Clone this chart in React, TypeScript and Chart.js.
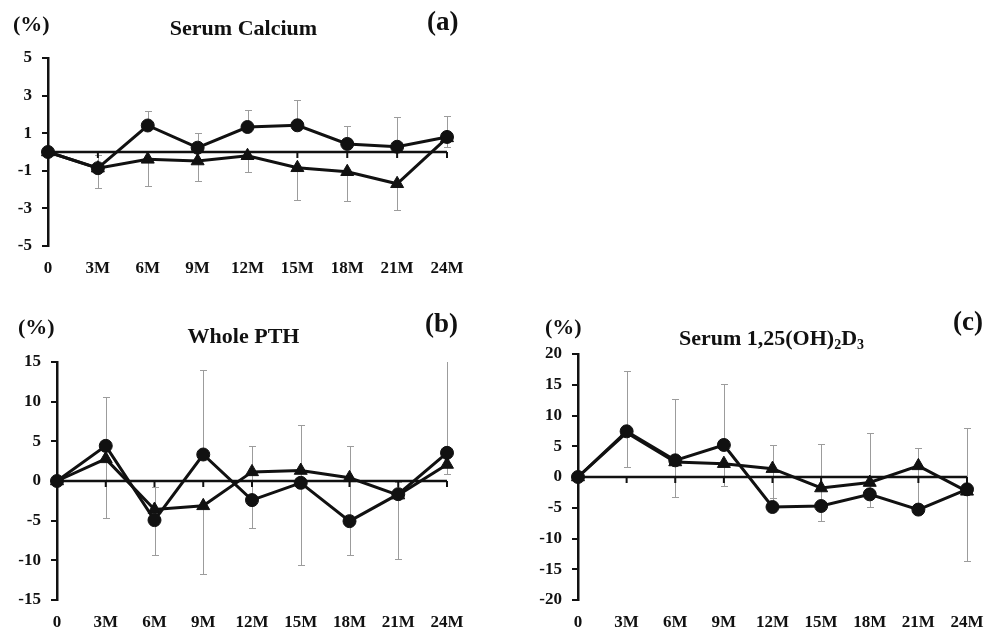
import React, { useEffect, useRef } from "react";
import { Chart, registerables } from "chart.js";

Chart.register(...registerables);

// ---------- data ----------
const months = ["0", "3M", "6M", "9M", "12M", "15M", "18M", "21M", "24M"];

// (a) Serum Calcium
const calciumCircle = [0, -0.86, 1.41, 0.23, 1.33, 1.42, 0.43, 0.28, 0.8];
const calciumCircleSD = [0, 0.68, 0.78, 0.77, 0.89, 1.32, 0.96, 1.57, 1.09];
const calciumTriangle = [0, -0.86, -0.39, -0.48, -0.2, -0.84, -1.05, -1.69, 0.75];
const calciumTriangleSD = [0, 1.03, 1.42, 1.05, 0.89, 1.69, 1.58, 1.41, 0.47];
const calciumTicks = [-5, -3, -1, 1, 3, 5];

// (b) Whole PTH
const pthCircle = [0, 4.43, -4.93, 3.34, -2.41, -0.23, -5.06, -1.66, 3.55];
const pthCircleSD = [0, 6.12, 4.2, 10.61, 6.8, 7.34, 9.45, 1.53, 12.0];
const pthTriangle = [0, 2.79, -3.59, -3.13, 1.15, 1.32, 0.4, -1.78, 2.08];
const pthTriangleSD = [0, 7.51, 5.75, 8.6, 7.13, 11.96, 9.74, 8.09, 1.16];
const pthTicks = [-15, -10, -5, 0, 5, 10, 15];

// (c) Serum 1,25(OH)2D3
const vitDCircle = [0, 7.43, 2.71, 5.21, -4.88, -4.72, -2.82, -5.3, -2.0];
const vitDCircleSD = [0, 9.88, 9.93, 9.98, 10.03, 10.04, 9.98, 10.07, 10.03];
const vitDTriangle = [0, 7.2, 2.44, 2.17, 1.36, -1.79, -0.9, 1.81, -2.33];
const vitDTriangleSD = [0, 5.63, 5.64, 3.69, 4.72, 5.43, 3.98, 7.0, 11.27];
const vitDTicks = [-20, -15, -10, -5, 0, 5, 10, 15, 20];

// ---------- styles ----------
const INK = "#111111";
const ERR = "#9c9c9c";
const FONT = '"Liberation Serif", "Times New Roman", Times, serif';

type PanelSpec = {
  circle: number[];
  circleSD: number[];
  triangle: number[];
  triangleSD: number[];
  ticks: number[];
  left: number;
  top: number;
  width: number;
  height: number;
  yWidth: number;
  padTop: number;
  padRight: number;
  padBottom: number;
};

function makeDecor(spec: PanelSpec) {
  return {
    id: "panelDecor",
    beforeDatasetsDraw(chart: any) {
      const { ctx, chartArea, scales } = chart;
      const x = scales.x;
      const y = scales.y;
      // error bars (circles: upward, triangles: downward)
      ctx.save();
      ctx.beginPath();
      ctx.rect(chartArea.left - 10, chartArea.top, chartArea.right - chartArea.left + 20, chartArea.bottom - chartArea.top);
      ctx.clip();
      ctx.strokeStyle = ERR;
      ctx.lineWidth = 1;
      const groups: [number[], number[], number][] = [
        [spec.circle, spec.circleSD, 1],
        [spec.triangle, spec.triangleSD, -1],
      ];
      groups.forEach(([vals, sds, dir]) => {
        vals.forEach((v, i) => {
          const sd = sds[i];
          if (!sd) return;
          const px = Math.round(x.getPixelForValue(i)) + 0.5;
          const y0 = y.getPixelForValue(v);
          const y1 = Math.round(y.getPixelForValue(v + dir * sd)) + 0.5;
          ctx.beginPath();
          ctx.moveTo(px, y0);
          ctx.lineTo(px, y1);
          ctx.moveTo(px - 3.5, y1);
          ctx.lineTo(px + 3.5, y1);
          ctx.stroke();
        });
      });
      ctx.restore();
      // zero axis line with tick marks
      const zy = y.getPixelForValue(0);
      ctx.save();
      ctx.strokeStyle = INK;
      ctx.lineWidth = 2.5;
      ctx.beginPath();
      ctx.moveTo(chartArea.left, zy);
      ctx.lineTo(chartArea.right, zy);
      ctx.stroke();
      ctx.lineWidth = 2;
      months.forEach((_, i) => {
        const px = x.getPixelForValue(i);
        ctx.beginPath();
        ctx.moveTo(px, zy);
        ctx.lineTo(px, zy + 6);
        ctx.stroke();
      });
      ctx.restore();
    },
  };
}

function Panel({ spec }: { spec: PanelSpec }) {
  const ref = useRef<HTMLCanvasElement | null>(null);
  useEffect(() => {
    if (!ref.current) return;
    const tickFont = { family: FONT, size: 17, weight: "bold" as const };
    const chart = new Chart(ref.current, {
      type: "line",
      data: {
        labels: months,
        datasets: [
          {
            label: "circle",
            data: spec.circle,
            borderColor: INK,
            backgroundColor: INK,
            borderWidth: 3,
            pointStyle: "circle",
            pointRadius: 6.5,
            pointBorderWidth: 1,
            pointBorderColor: INK,
            pointBackgroundColor: INK,
            tension: 0,
            order: 0,
          },
          {
            label: "triangle",
            data: spec.triangle,
            borderColor: INK,
            backgroundColor: INK,
            borderWidth: 3,
            pointStyle: "triangle",
            pointRadius: 7.5,
            pointBorderWidth: 1,
            pointBorderColor: INK,
            pointBackgroundColor: INK,
            tension: 0,
            order: 1,
          },
        ],
      },
      options: {
        responsive: false,
        animation: false,
        devicePixelRatio: 1,
        layout: {
          padding: { left: 0, top: spec.padTop, right: spec.padRight, bottom: spec.padBottom },
        },
        plugins: {
          legend: { display: false },
          tooltip: { enabled: false },
          title: { display: false },
        },
        scales: {
          x: {
            type: "category",
            offset: false,
            grid: { display: false, drawTicks: false },
            border: { display: false },
            ticks: { color: INK, font: tickFont, padding: 12, maxRotation: 0, autoSkip: false },
            afterFit: (s: any) => {
              s.height = 30;
            },
          },
          y: {
            min: spec.ticks[0],
            max: spec.ticks[spec.ticks.length - 1],
            afterBuildTicks: (s: any) => {
              s.ticks = spec.ticks.map((v) => ({ value: v }));
            },
            ticks: { color: INK, font: tickFont, padding: 10 },
            grid: {
              drawOnChartArea: false,
              drawTicks: true,
              tickLength: 6,
              tickColor: INK,
              lineWidth: 2,
            },
            border: { display: true, color: INK, width: 2.5 },
            afterFit: (s: any) => {
              s.width = spec.yWidth;
            },
          },
        },
      },
      plugins: [makeDecor(spec)],
    } as any);
    return () => chart.destroy();
  }, [spec]);
  return (
    <canvas
      ref={ref}
      width={spec.width}
      height={spec.height}
      style={{ position: "absolute", left: spec.left, top: spec.top, width: spec.width, height: spec.height }}
    />
  );
}

const panelA: PanelSpec = {
  circle: calciumCircle,
  circleSD: calciumCircleSD,
  triangle: calciumTriangle,
  triangleSD: calciumTriangleSD,
  ticks: calciumTicks,
  left: 0,
  top: 0,
  width: 480,
  height: 290,
  yWidth: 48,
  padTop: 58,
  padRight: 33,
  padBottom: 14,
};

const panelB: PanelSpec = {
  circle: pthCircle,
  circleSD: pthCircleSD,
  triangle: pthTriangle,
  triangleSD: pthTriangleSD,
  ticks: pthTicks,
  left: 0,
  top: 300,
  width: 480,
  height: 332,
  yWidth: 57,
  padTop: 62,
  padRight: 33,
  padBottom: 2,
};

const panelC: PanelSpec = {
  circle: vitDCircle,
  circleSD: vitDCircleSD,
  triangle: vitDTriangle,
  triangleSD: vitDTriangleSD,
  ticks: vitDTicks,
  left: 500,
  top: 300,
  width: 500,
  height: 332,
  yWidth: 78,
  padTop: 54,
  padRight: 33,
  padBottom: 2,
};

function Label({
  left,
  top,
  size,
  children,
  center,
}: {
  left: number;
  top: number;
  size: number;
  children: React.ReactNode;
  center?: boolean;
}) {
  const style: React.CSSProperties = {
    position: "absolute",
    top,
    fontFamily: FONT,
    fontWeight: "bold",
    fontSize: size,
    lineHeight: `${size}px`,
    color: INK,
    whiteSpace: "nowrap",
  };
  if (center) {
    style.left = left - 200;
    style.width = 400;
    style.textAlign = "center";
  } else {
    style.left = left;
  }
  return <div style={style}>{children}</div>;
}

export default function App() {
  const sub: React.CSSProperties = { fontSize: 14, verticalAlign: "-4px", lineHeight: 0 };
  return (
    <div
      style={{
        position: "absolute",
        left: 0,
        top: 0,
        width: 1000,
        height: 632,
        background: "#ffffff",
        overflow: "hidden",
      }}
    >
      <Panel spec={panelA} />
      <Panel spec={panelB} />
      <Panel spec={panelC} />

      <Label left={13} top={12.6} size={22}>(%)</Label>
      <Label left={243.5} top={16.6} size={22} center>Serum Calcium</Label>
      <Label left={427} top={7.5} size={27}>(a)</Label>

      <Label left={18} top={316} size={22}>(%)</Label>
      <Label left={243.5} top={324.6} size={22} center>Whole PTH</Label>
      <Label left={425} top={310} size={27}>(b)</Label>

      <Label left={545} top={316} size={22}>(%)</Label>
      <Label left={771.5} top={326.6} size={22} center>
        Serum 1,25(OH)<span style={sub}>2</span>D<span style={sub}>3</span>
      </Label>
      <Label left={953} top={307.5} size={27}>(c)</Label>
    </div>
  );
}
